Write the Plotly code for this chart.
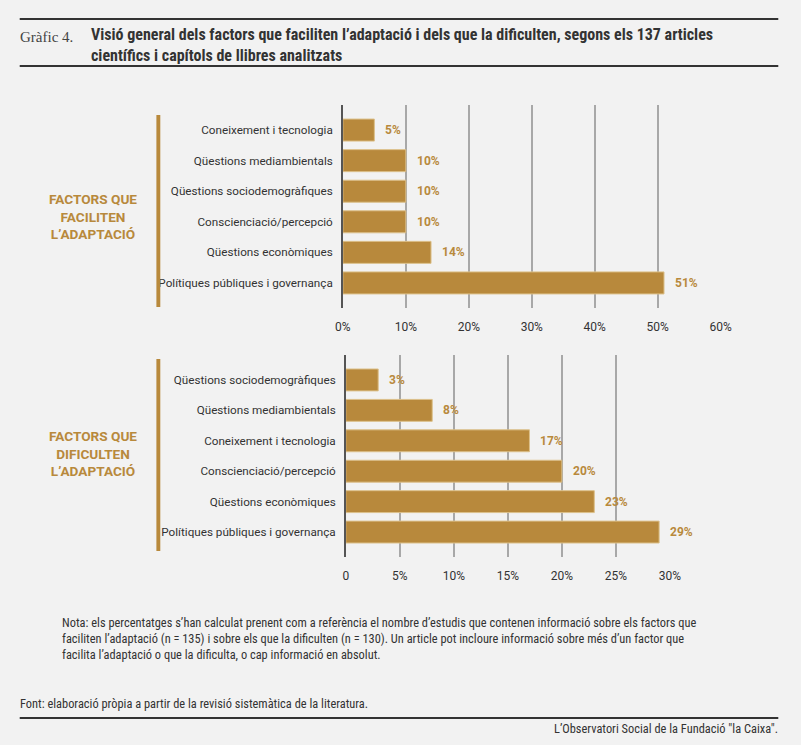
import plotly.graph_objects as go

W, H = 801, 745

# dades
fac_cats = ['Coneixement i tecnologia', 'Qüestions mediambientals',
            'Qüestions sociodemogràfiques', 'Conscienciació/percepció',
            'Qüestions econòmiques', 'Polítiques públiques i governança']
fac_vals = [5, 10, 10, 10, 14, 51]

dif_cats = ['Qüestions sociodemogràfiques', 'Qüestions mediambientals',
            'Coneixement i tecnologia', 'Conscienciació/percepció',
            'Qüestions econòmiques', 'Polítiques públiques i governança']
dif_vals = [3, 8, 17, 20, 23, 29]

fac_ticks = [0, 10, 20, 30, 40, 50, 60]
fac_ticktext = ['0%', '10%', '20%', '30%', '40%', '50%', '60%']
dif_ticks = [0, 5, 10, 15, 20, 25, 30]
dif_ticktext = ['0', '5%', '10%', '15%', '20%', '25%', '30%']

GOLD = '#b8893c'
TXT = '#333333'
BG = '#f2f2f2'
BODY = 'Roboto'
NARROW = 'Roboto Condensed'


def px(x):
    return x / W


def py(y):
    return 1 - y / H


fig = go.Figure()

fig.add_trace(go.Bar(x=fac_vals, y=fac_cats, orientation='h', width=0.72,
                     marker=dict(color=GOLD, line=dict(color='#dcc08a', width=1)),
                     xaxis='x', yaxis='y', hoverinfo='x+y'))
fig.add_trace(go.Bar(x=dif_vals, y=dif_cats, orientation='h', width=0.72,
                     marker=dict(color=GOLD, line=dict(color='#dcc08a', width=1)),
                     xaxis='x2', yaxis='y2', hoverinfo='x+y'))

annotations = []
for c, v in zip(fac_cats, fac_vals):
    annotations.append(dict(x=v, y=c, xref='x', yref='y', text=f'<b>{v}%</b>',
                            showarrow=False, xanchor='left', xshift=9,
                            font=dict(family=BODY, size=12, color=GOLD)))
for c, v in zip(dif_cats, dif_vals):
    annotations.append(dict(x=v, y=c, xref='x2', yref='y2', text=f'<b>{v}%</b>',
                            showarrow=False, xanchor='left', xshift=9,
                            font=dict(family=BODY, size=12, color=GOLD)))

# títols i textos
annotations += [
    dict(x=px(10), y=py(37), xref='paper', yref='paper', text='Gràfic 4.',
         showarrow=False, xanchor='left', yanchor='middle',
         font=dict(family='Liberation Serif', size=15, color='#444')),
    dict(x=px(83), y=py(45), xref='paper', yref='paper',
         text='<b>Visió general dels factors que faciliten l’adaptació i dels que la dificulten, segons els 137 articles<br>'
              'científics i capítols de llibres analitzats</b>',
         showarrow=False, xanchor='left', yanchor='middle', align='left',
         font=dict(family=NARROW, size=16, color=TXT)),
    dict(x=px(87), y=py(217), xref='paper', yref='paper',
         text='<b>FACTORS QUE<br>FACILITEN<br>L’ADAPTACIÓ</b>',
         showarrow=False, xanchor='center', yanchor='middle', align='center',
         font=dict(family=BODY, size=13.6, color=GOLD)),
    dict(x=px(87), y=py(453), xref='paper', yref='paper',
         text='<b>FACTORS QUE<br>DIFICULTEN<br>L’ADAPTACIÓ</b>',
         showarrow=False, xanchor='center', yanchor='middle', align='center',
         font=dict(family=BODY, size=13.6, color=GOLD)),
    dict(x=px(53), y=py(638), xref='paper', yref='paper',
         text='Nota: els percentatges s’han calculat prenent com a referència el nombre d’estudis que contenen informació sobre els factors que<br>'
              'faciliten l’adaptació (n = 135) i sobre els que la dificulten (n = 130). Un article pot incloure informació sobre més d’un factor que<br>'
              'facilita l’adaptació o que la dificulta, o cap informació en absolut.',
         showarrow=False, xanchor='left', yanchor='middle', align='left',
         font=dict(family=NARROW, size=12.4, color=TXT)),
    dict(x=px(10), y=py(703), xref='paper', yref='paper',
         text='Font: elaboració pròpia a partir de la revisió sistemàtica de la literatura.',
         showarrow=False, xanchor='left', yanchor='middle',
         font=dict(family=NARROW, size=12.4, color=TXT)),
    dict(x=px(791), y=py(728), xref='paper', yref='paper',
         text='L’Observatori Social de la Fundació "la Caixa".',
         showarrow=False, xanchor='right', yanchor='middle',
         font=dict(family=NARROW, size=12.4, color=TXT)),
]

shapes = [
    dict(type='line', xref='paper', yref='paper', x0=px(12), x1=px(789), y0=py(19), y1=py(19),
         line=dict(color='#333', width=2)),
    dict(type='line', xref='paper', yref='paper', x0=px(12), x1=px(789), y0=py(66), y1=py(66),
         line=dict(color='#333', width=2)),
    dict(type='line', xref='paper', yref='paper', x0=px(12), x1=px(789), y0=py(718), y1=py(718),
         line=dict(color='#333', width=2)),
    dict(type='rect', xref='paper', yref='paper', x0=px(152), x1=px(156), y0=py(307), y1=py(115),
         fillcolor=GOLD, line=dict(width=0)),
    dict(type='rect', xref='paper', yref='paper', x0=px(152), x1=px(156), y0=py(551), y1=py(359),
         fillcolor=GOLD, line=dict(width=0)),
]

xcommon = dict(showgrid=True, gridcolor='#a8a8a8', gridwidth=1.5, zeroline=False,
               showline=False, ticks='', ticklabelstandoff=10, fixedrange=True,
               tickfont=dict(family=BODY, size=12, color=TXT))
ycommon = dict(showgrid=False, zeroline=False, showline=True, linecolor='#555', linewidth=1.5,
               ticks='', ticklabelstandoff=6, fixedrange=True,
               tickfont=dict(family=BODY, size=11.7, color=TXT))

fig.update_layout(
    width=W, height=H, autosize=False,
    margin=dict(l=0, r=0, t=0, b=0),
    paper_bgcolor=BG, plot_bgcolor=BG,
    showlegend=False,
    xaxis=dict(domain=[px(343), px(730)], range=[0, 60], anchor='y',
               tickvals=fac_ticks, ticktext=fac_ticktext, **xcommon),
    yaxis=dict(domain=[py(308), py(105)], range=[5.82, -0.82], anchor='x',
               type='category', **ycommon),
    xaxis2=dict(domain=[px(346), px(678)], range=[0, 30], anchor='y2',
                tickvals=dif_ticks, ticktext=dif_ticktext, **xcommon),
    yaxis2=dict(domain=[py(557), py(355)], range=[5.82, -0.82], anchor='x2',
                type='category', **ycommon),
    annotations=annotations,
    shapes=shapes,
)

fig.write_html('out.html', config={'displayModeBar': False, 'responsive': False},
               post_script="document.body.style.margin='0';"
                           "document.body.style.overflow='hidden';"
                           "document.documentElement.style.overflow='hidden';")
